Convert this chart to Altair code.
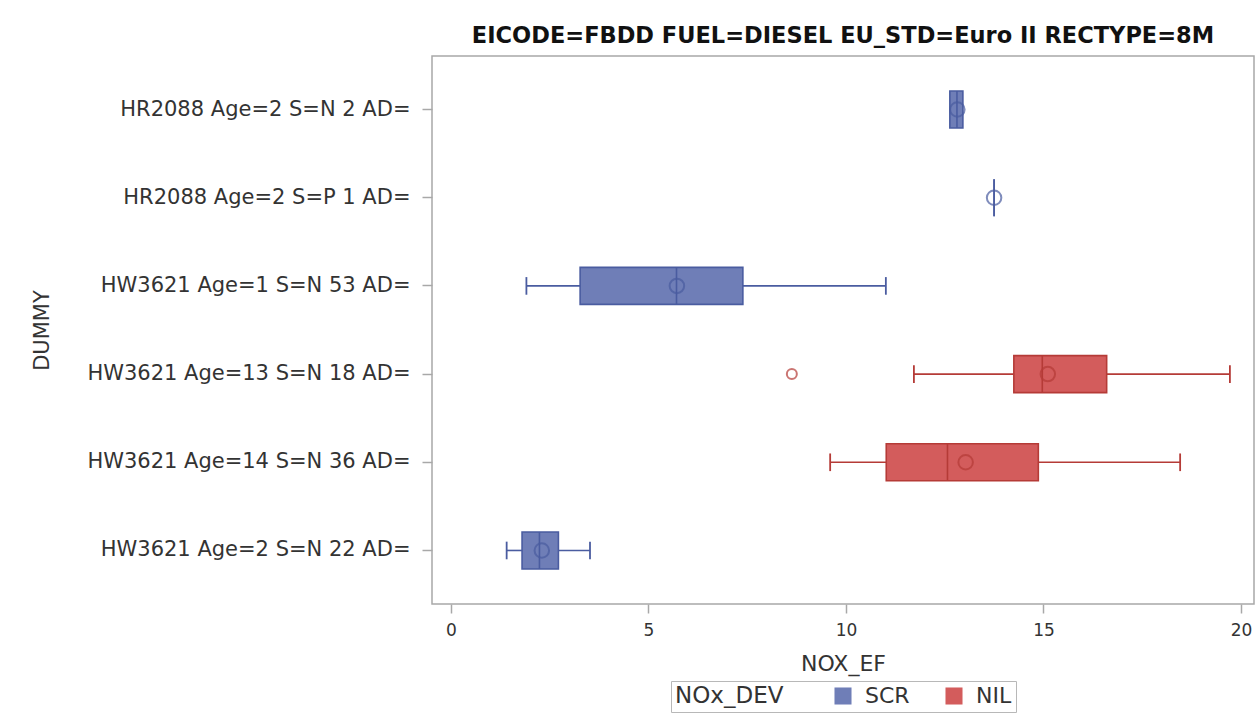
import altair as alt
import pandas as pd

categories = [
    "HR2088 Age=2 S=N 2 AD=",
    "HR2088 Age=2 S=P 1 AD=",
    "HW3621 Age=1 S=N 53 AD=",
    "HW3621 Age=13 S=N 18 AD=",
    "HW3621 Age=14 S=N 36 AD=",
    "HW3621 Age=2 S=N 22 AD=",
]
devices = ["SCR", "SCR", "SCR", "NIL", "NIL", "SCR"]
whisker_low = [12.63, 13.75, 1.91, 11.72, 9.60, 1.41]
q1 = [12.63, 13.75, 3.27, 14.25, 11.02, 1.80]
median = [12.81, 13.75, 5.71, 14.97, 12.57, 2.24]
q3 = [12.96, 13.75, 7.39, 16.60, 14.87, 2.72]
whisker_high = [12.96, 13.75, 11.01, 19.72, 18.46, 3.52]
means = [12.82, 13.75, 5.72, 15.11, 13.03, 2.30]
outlier_cat = ["HW3621 Age=13 S=N 18 AD="]
outlier_dev = ["NIL"]
outlier_val = [8.63]

dev_domain = ["SCR", "NIL"]
fill_colors = ["#6F7EB7", "#D35C5C"]
line_colors = ["#4A5CA0", "#B53B37"]

df = pd.DataFrame({
    "DUMMY": categories, "NOx_DEV": devices, "lo": whisker_low, "q1": q1,
    "med": median, "q3": q3, "hi": whisker_high, "mean": means,
})
df_out = pd.DataFrame({"DUMMY": outlier_cat, "NOx_DEV": outlier_dev, "val": outlier_val})

FONT = "DejaVu Sans"

y_enc = alt.Y(
    "DUMMY:N", sort=categories,
    scale=alt.Scale(paddingInner=0, paddingOuter=0.107),
    axis=alt.Axis(
        title="DUMMY", titleFont=FONT, titleFontSize=21, titleFontWeight="normal",
        titleColor="#333333", titleX=-390, titleY=274, titleAngle=270,
        titleAlign="center", titleBaseline="middle",
        labelFont=FONT, labelFontSize=21, labelColor="#333333", labelPadding=12,
        tickSize=10, tickColor="#a8a8a8", tickWidth=1.5, domain=False, labelLimit=600,
    ),
)


def y_span(lo_band, hi_band):
    return dict(
        y=alt.Y("DUMMY:N", sort=categories, bandPosition=lo_band),
        y2=alt.Y2("DUMMY:N", bandPosition=hi_band),
    )


x_scale = alt.Scale(domain=[-0.48, 20.33], nice=False, zero=False)
x_axis = alt.Axis(
    title="NOX_EF", titleFont=FONT, titleFontSize=22, titleFontWeight="normal",
    titleColor="#333333", titlePadding=15,
    labelFont=FONT, labelFontSize=17, labelColor="#333333", labelPadding=9,
    values=[0, 5, 10, 15, 20], tickSize=9, tickColor="#a8a8a8", tickWidth=1.5,
    domain=False, grid=False,
)

legend_cfg = alt.Legend(
    title="NOx_DEV", orient="none", legendX=239, legendY=625,
    direction="horizontal", titleOrient="left",
    titleFont=FONT, titleFontSize=23, titleFontWeight="normal",
    titleColor="#333333", titlePadding=48,
    labelFont=FONT, labelFontSize=22, labelColor="#333333",
    labelOffset=11, columnPadding=33,
    symbolType="square", symbolSize=290, symbolStrokeWidth=0,
    strokeColor="#b8b8b8", padding=4)

layers = []
for i, dev in enumerate(dev_domain):
    lc = line_colors[i]
    b = alt.Chart(df).transform_filter(alt.datum.NOx_DEV == dev)
    caps = b.transform_filter("datum.lo < datum.q1")
    layers += [
        b.mark_rule(strokeWidth=1.6, color=lc).encode(
            x=alt.X("lo:Q", scale=x_scale, axis=x_axis), x2="q1:Q", y=y_enc),
        b.mark_rule(strokeWidth=1.6, color=lc).encode(
            x=alt.X("q3:Q", scale=x_scale), x2="hi:Q", y=y_enc),
        caps.mark_rule(strokeWidth=1.8, color=lc).encode(
            x=alt.X("lo:Q", scale=x_scale), **y_span(0.4, 0.6)),
        caps.mark_rule(strokeWidth=1.8, color=lc).encode(
            x=alt.X("hi:Q", scale=x_scale), **y_span(0.4, 0.6)),
        b.mark_bar(size=37, strokeWidth=1.6, stroke=lc, opacity=1).encode(
            x=alt.X("q1:Q", scale=x_scale), x2="q3:Q", y=y_enc,
            color=alt.Color("NOx_DEV:N", sort=dev_domain,
                            scale=alt.Scale(domain=dev_domain, range=fill_colors),
                            legend=legend_cfg)),
        b.mark_rule(strokeWidth=1.6, color=lc).encode(
            x=alt.X("med:Q", scale=x_scale), **y_span(0.29, 0.71)),
        b.mark_point(shape="circle", filled=False, size=210, strokeWidth=2, color=lc).encode(
            x=alt.X("mean:Q", scale=x_scale), y=y_enc),
    ]

layers.append(
    alt.Chart(df_out).mark_point(shape="circle", filled=False, size=100, strokeWidth=2,
                                 color=line_colors[1]).encode(
        x=alt.X("val:Q", scale=x_scale), y=y_enc)
)

chart = alt.layer(*layers).properties(
    width=822, height=548,
    title=alt.Title("EICODE=FBDD FUEL=DIESEL EU_STD=Euro II RECTYPE=8M",
                    font=FONT, fontSize=22.5, fontWeight="bold", color="#111111",
                    anchor="middle", offset=9),
    autosize=alt.AutoSizeParams(type="none"),
    padding={"left": 432, "top": 56, "right": 4, "bottom": 111},
    background="white",
).configure_view(stroke="#a8a8a8", strokeWidth=1.5)

chart.save("out.html", embed_options={"renderer": "svg", "actions": False})
